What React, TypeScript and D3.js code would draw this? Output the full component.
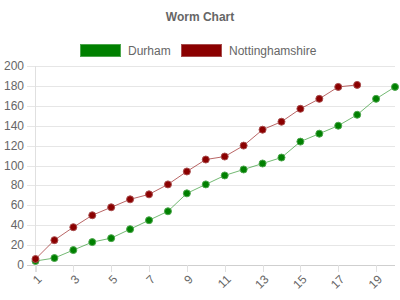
import React from "react";
import * as d3 from "d3";

const overs: number[] = [1, 2, 3, 4, 5, 6, 7, 8, 9, 10, 11, 12, 13, 14, 15, 16, 17, 18, 19, 20];
const durham: number[] = [4, 7, 15, 23, 27, 36, 45, 54, 72, 81, 90, 96, 102, 108, 124, 132, 140, 151, 167, 179];
const notts: number[] = [6, 25, 38, 50, 58, 66, 71, 81, 94, 106, 109, 120, 136, 144, 157, 167, 179, 181];
const yTicks: number[] = [0, 20, 40, 60, 80, 100, 120, 140, 160, 180, 200];
const xTickLabels: number[] = [1, 3, 5, 7, 9, 11, 13, 15, 17, 19];
const seriesNames: string[] = ["Durham", "Nottinghamshire"];

const FONT = "'Liberation Sans', Arial, Helvetica, sans-serif";

export default function App() {
  const W = 400, H = 300;
  const x = d3.scaleLinear().domain([1, 20]).range([35.5, 395]);
  const y = d3.scaleLinear().domain([0, 200]).range([265, 66]);
  const line = d3.line<[number, number]>().x((d) => x(d[0])).y((d) => y(d[1]));
  const dData: [number, number][] = durham.map((v, i) => [overs[i], v]);
  const nData: [number, number][] = notts.map((v, i) => [overs[i], v]);
  const series = [
    { name: seriesNames[0], data: dData, fill: "#008000", stroke: "#4ca64c", line: "rgba(0,128,0,0.55)" },
    { name: seriesNames[1], data: nData, fill: "#8b0000", stroke: "#a84c4c", line: "rgba(139,0,0,0.6)" },
  ];
  const legendX = [80, 181];
  return (
    <svg width={W} height={H} style={{ position: "absolute", left: 0, top: 0, fontFamily: FONT }}>
      <rect width={W} height={H} fill="#fff" />
      <text x={200} y={21} textAnchor="middle" fontSize={12} fontWeight="bold" fill="#666">Worm Chart</text>
      {series.map((s, i) => (
        <g key={s.name}>
          <rect x={legendX[i] + 0.5} y={44.5} width={40} height={12} fill={s.fill} stroke={s.stroke} strokeWidth={1} />
          <text x={legendX[i] + 48} y={54.5} fontSize={12} fill="#666">{s.name}</text>
        </g>
      ))}
      {yTicks.map((t) => (
        <g key={t}>
          <line x1={27} x2={395} y1={Math.round(y(t)) + 0.5} y2={Math.round(y(t)) + 0.5} stroke={t === 0 ? "#cfcfcf" : "#e6e6e6"} />
          <text x={24} y={y(t) + 4} textAnchor="end" fontSize={12} fill="#666">{t}</text>
        </g>
      ))}
      <line x1={35.5} x2={35.5} y1={66} y2={272} stroke="#e0e0e0" />
      {xTickLabels.map((t) => (
        <g key={t}>
          <line x1={Math.round(x(t)) + 0.5} x2={Math.round(x(t)) + 0.5} y1={265} y2={272} stroke="#e0e0e0" />
          <text transform={`translate(${x(t) + 4},${277}) rotate(-45)`} textAnchor="end" dy="0.35em" fontSize={12} fill="#666">{t}</text>
        </g>
      ))}
      {series.map((s) => (
        <g key={s.name + "-l"}>
          <path d={line(s.data) || ""} fill="none" stroke={s.line} strokeWidth={1} />
          {s.data.map((d, j) => (
            <circle key={j} cx={x(d[0])} cy={y(d[1])} r={3.5} fill={s.fill} stroke={s.stroke} strokeWidth={1} />
          ))}
        </g>
      ))}
    </svg>
  );
}
